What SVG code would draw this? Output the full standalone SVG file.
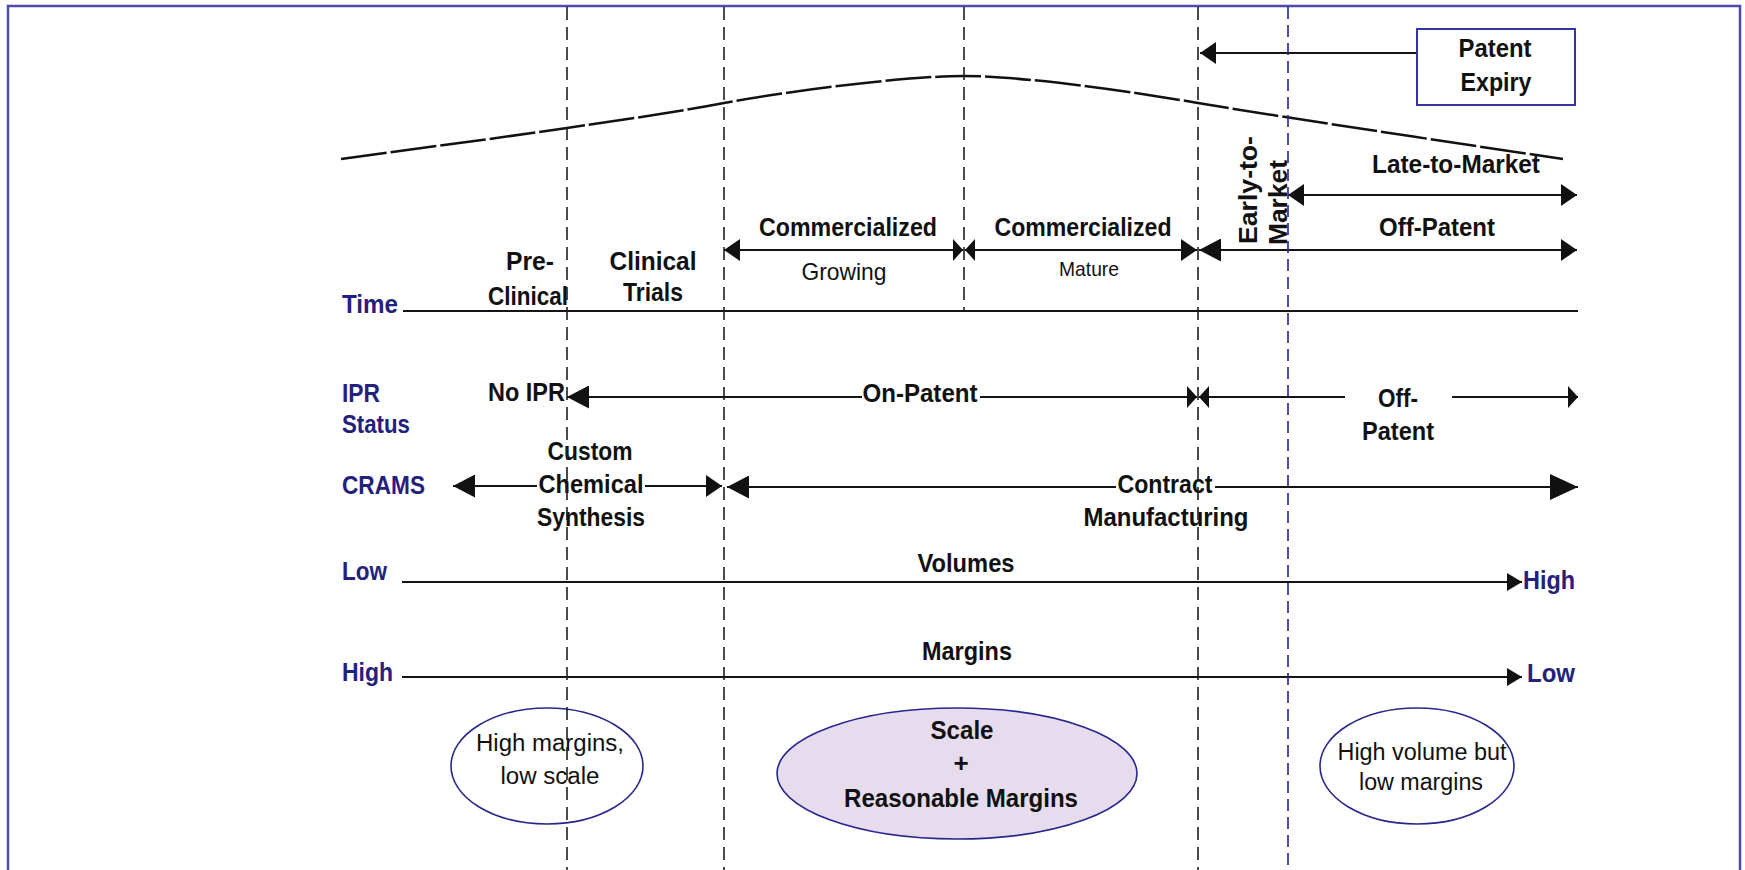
<svg xmlns="http://www.w3.org/2000/svg" width="1745" height="870" viewBox="0 0 1745 870">
<style>
.b{font-family:"Liberation Sans",Arial,sans-serif;font-weight:bold;font-size:26px;fill:#111;}
.r{font-family:"Liberation Sans",Arial,sans-serif;font-weight:normal;fill:#111;}
.blue{font-family:"Liberation Sans",Arial,sans-serif;font-weight:bold;font-size:26px;fill:#24217c;}
.m{text-anchor:middle;}
.ln{stroke:#141414;stroke-width:2;fill:none;}
.dash{stroke:#1e1e1e;stroke-width:1.6;stroke-dasharray:13 7;fill:none;}
</style>
<defs>
<marker id="ah" markerUnits="userSpaceOnUse" markerWidth="16" markerHeight="22" refX="16" refY="11" viewBox="0 0 16 22" orient="auto-start-reverse"><path d="M0,0 L16,11 L0,22 z" fill="#111"/></marker>
<marker id="ahn" markerUnits="userSpaceOnUse" markerWidth="10" markerHeight="22" refX="10" refY="11" viewBox="0 0 10 22" orient="auto-start-reverse"><path d="M0,0 L10,11 L0,22 z" fill="#111"/></marker>
<marker id="ahb" markerUnits="userSpaceOnUse" markerWidth="28" markerHeight="26" refX="28" refY="13" viewBox="0 0 28 26" orient="auto-start-reverse"><path d="M0,0 L28,13 L0,26 z" fill="#111"/></marker>
<marker id="ahl" markerUnits="userSpaceOnUse" markerWidth="22" markerHeight="23" refX="22" refY="11.5" viewBox="0 0 22 23" orient="auto-start-reverse"><path d="M0,0 L22,11.5 L0,23 z" fill="#111"/></marker>
<marker id="ahv" markerUnits="userSpaceOnUse" markerWidth="15" markerHeight="18" refX="15" refY="9" viewBox="0 0 15 18" orient="auto-start-reverse"><path d="M0,0 L15,9 L0,18 z" fill="#111"/></marker>
</defs>
<rect x="0" y="0" width="1745" height="870" fill="#fff"/>
<rect x="8" y="6" width="1732" height="900" fill="none" stroke="#4b4bab" stroke-width="2.5"/>

<g id="lifecycle-curve">
<path d="M341,159 C420,148 500,138 567,128 C634,118 674,112.5 724,103 C774,93.5 900,76 964,76 C1028,76 1150,94.6 1198,103 C1246,111.4 1450,142.3 1563,159" fill="none" stroke="#111" stroke-width="2.5" stroke-dasharray="46 4"/>
</g>

<g id="connectors">
<line class="ln" x1="1417" y1="53" x2="1200" y2="53" marker-end="url(#ah)"/>
<line class="ln" x1="1288" y1="195" x2="1577" y2="195" marker-start="url(#ah)" marker-end="url(#ah)"/>
<line class="ln" x1="724" y1="250" x2="963" y2="250" marker-start="url(#ah)" marker-end="url(#ahn)"/>
<line class="ln" x1="965" y1="250" x2="1197" y2="250" marker-start="url(#ahn)" marker-end="url(#ah)"/>
<line class="ln" x1="1199" y1="250" x2="1577" y2="250" marker-start="url(#ahl)" marker-end="url(#ah)"/>
<line class="ln" x1="403" y1="311" x2="1578" y2="311"/>
<line class="ln" x1="567" y1="397" x2="1197" y2="397" marker-start="url(#ahl)" marker-end="url(#ahn)"/>
<line class="ln" x1="1199" y1="397" x2="1345" y2="397" marker-start="url(#ahn)"/>
<line class="ln" x1="1452" y1="397" x2="1578" y2="397" marker-end="url(#ahn)"/>
<line class="ln" x1="453" y1="486" x2="722" y2="486" marker-start="url(#ahl)" marker-end="url(#ah)"/>
<line class="ln" x1="727" y1="487" x2="1578" y2="487" marker-start="url(#ahl)" marker-end="url(#ahb)"/>
<line class="ln" x1="402" y1="582" x2="1522" y2="582" marker-end="url(#ahv)"/>
<line class="ln" x1="402" y1="677" x2="1522" y2="677" marker-end="url(#ahv)"/>
</g>

<g id="row-labels">
<text class="blue" x="342" y="313" textLength="56" lengthAdjust="spacingAndGlyphs">Time</text>
<text class="blue" x="342" y="402" textLength="38" lengthAdjust="spacingAndGlyphs">IPR</text>
<text class="blue" x="342" y="433" textLength="68" lengthAdjust="spacingAndGlyphs">Status</text>
<text class="blue" x="342" y="494" textLength="83" lengthAdjust="spacingAndGlyphs">CRAMS</text>
<text class="blue" x="342" y="580" textLength="45" lengthAdjust="spacingAndGlyphs">Low</text>
<text class="blue" x="342" y="681" textLength="51" lengthAdjust="spacingAndGlyphs">High</text>
<text class="blue" x="1523" y="589" textLength="52" lengthAdjust="spacingAndGlyphs">High</text>
<text class="blue" x="1527" y="682" textLength="48" lengthAdjust="spacingAndGlyphs">Low</text>
</g>

<g id="patent-expiry">
<rect x="1417" y="29" width="158" height="76" fill="#fff" stroke="#3434a2" stroke-width="2"/>
<text class="b m" x="1495" y="57" textLength="73" lengthAdjust="spacingAndGlyphs">Patent</text>
<text class="b m" x="1496" y="91" textLength="71" lengthAdjust="spacingAndGlyphs">Expiry</text>
</g>

<g id="pre-clinical">
<text class="b m" x="530" y="270" textLength="48" lengthAdjust="spacingAndGlyphs">Pre-</text>
<text class="b" x="488" y="305" textLength="80" lengthAdjust="spacingAndGlyphs">Clinical</text>
</g>
<g id="clinical-trials">
<text class="b m" x="653" y="270" textLength="87" lengthAdjust="spacingAndGlyphs">Clinical</text>
<text class="b m" x="653" y="301" textLength="60" lengthAdjust="spacingAndGlyphs">Trials</text>
</g>
<g id="commercialized-growing">
<text class="b m" x="848" y="236" textLength="178" lengthAdjust="spacingAndGlyphs">Commercialized</text>
<text class="r m" x="844" y="280" font-size="24" textLength="85" lengthAdjust="spacingAndGlyphs">Growing</text>
</g>
<g id="commercialized-mature">
<text class="b m" x="1083" y="236" textLength="177" lengthAdjust="spacingAndGlyphs">Commercialized</text>
<text class="r m" x="1089" y="276" font-size="21" textLength="60" lengthAdjust="spacingAndGlyphs">Mature</text>
</g>
<g id="early-to-market">
<text class="b" transform="translate(1257,244) rotate(-90)" x="0" y="0" textLength="108" lengthAdjust="spacingAndGlyphs">Early-to-</text>
<text class="b" transform="translate(1287,245) rotate(-90)" x="0" y="0" textLength="85" lengthAdjust="spacingAndGlyphs">Market</text>
</g>
<g id="late-to-market">
<text class="b m" x="1456" y="173" textLength="168" lengthAdjust="spacingAndGlyphs">Late-to-Market</text>
</g>
<g id="off-patent-time">
<text class="b m" x="1437" y="236" textLength="116" lengthAdjust="spacingAndGlyphs">Off-Patent</text>
</g>

<g id="no-ipr">
<text class="b" x="488" y="401" textLength="77" lengthAdjust="spacingAndGlyphs">No IPR</text>
</g>
<g id="on-patent">
<rect x="862" y="383" width="118" height="22" fill="#fff"/>
<text class="b m" x="920" y="402" textLength="115" lengthAdjust="spacingAndGlyphs">On-Patent</text>
</g>
<g id="off-patent-ipr">
<text class="b" x="1378" y="407" textLength="40" lengthAdjust="spacingAndGlyphs">Off-</text>
<text class="b m" x="1398" y="440" textLength="72" lengthAdjust="spacingAndGlyphs">Patent</text>
</g>

<g id="custom-chemical-synthesis">
<rect x="537" y="473" width="108" height="22" fill="#fff"/>
<text class="b m" x="590" y="460" textLength="85" lengthAdjust="spacingAndGlyphs">Custom</text>
<text class="b m" x="591" y="493" textLength="105" lengthAdjust="spacingAndGlyphs">Chemical</text>
<text class="b m" x="591" y="526" textLength="108" lengthAdjust="spacingAndGlyphs">Synthesis</text>
</g>
<g id="contract-manufacturing">
<rect x="1116" y="472" width="99" height="22" fill="#fff"/>
<text class="b m" x="1165" y="493" textLength="95" lengthAdjust="spacingAndGlyphs">Contract</text>
<text class="b m" x="1166" y="526" textLength="165" lengthAdjust="spacingAndGlyphs">Manufacturing</text>
</g>

<g id="volumes">
<text class="b m" x="966" y="572" textLength="97" lengthAdjust="spacingAndGlyphs">Volumes</text>
</g>
<g id="margins">
<text class="b m" x="967" y="660" textLength="90" lengthAdjust="spacingAndGlyphs">Margins</text>
</g>

<g id="ellipse-high-margins">
<ellipse cx="547" cy="766" rx="96" ry="58" fill="#fff" stroke="#27278c" stroke-width="1.6"/>
<text class="r m" x="550" y="751" font-size="23" textLength="148" lengthAdjust="spacingAndGlyphs">High margins,</text>
<text class="r m" x="550" y="784" font-size="23" textLength="99" lengthAdjust="spacingAndGlyphs">low scale</text>
</g>
<g id="ellipse-scale">
<ellipse cx="957" cy="773.5" rx="180" ry="65.5" fill="#e6dcee" stroke="#27278c" stroke-width="1.6"/>
<text class="b m" x="962" y="739" textLength="63" lengthAdjust="spacingAndGlyphs">Scale</text>
<text class="b m" x="961" y="772">+</text>
<text class="b m" x="961" y="807" textLength="234" lengthAdjust="spacingAndGlyphs">Reasonable Margins</text>
</g>
<g id="ellipse-high-volume">
<ellipse cx="1417" cy="766" rx="97" ry="58" fill="#fff" stroke="#27278c" stroke-width="1.6"/>
<text class="r m" x="1422" y="760" font-size="23" textLength="169" lengthAdjust="spacingAndGlyphs">High volume but</text>
<text class="r m" x="1421" y="790" font-size="23" textLength="124" lengthAdjust="spacingAndGlyphs">low margins</text>
</g>

<g id="phase-dividers">
<line class="dash" x1="567" y1="7" x2="567" y2="870"/>
<line class="dash" x1="724" y1="7" x2="724" y2="870"/>
<line class="dash" x1="964" y1="7" x2="964" y2="311"/>
<line class="dash" x1="1198" y1="7" x2="1198" y2="870"/>
<line x1="1288" y1="7" x2="1288" y2="870" stroke="#22229a" stroke-width="1.6" stroke-dasharray="12 6"/>
</g>
</svg>
